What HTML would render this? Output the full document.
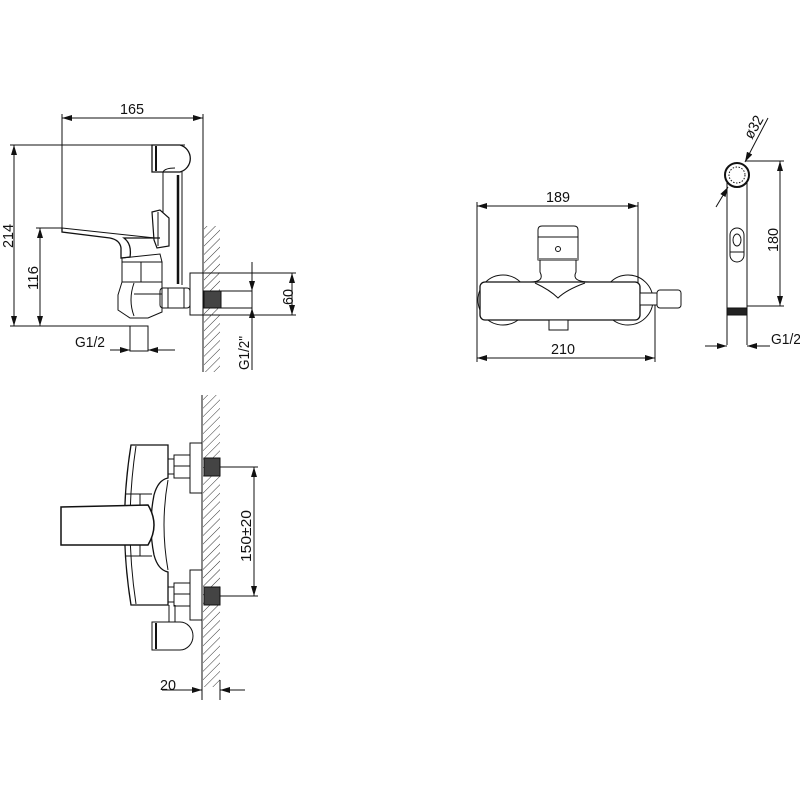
<!DOCTYPE html>
<html><head><meta charset="utf-8"><style>
html,body{margin:0;padding:0;background:#fff;}
svg{display:block}
text{font-family:"Liberation Sans",sans-serif;font-size:15px;fill:#111}
</style></head><body>
<svg width="800" height="800" viewBox="0 0 800 800" xmlns="http://www.w3.org/2000/svg">
<defs>
<pattern id="h" width="6" height="6" patternUnits="userSpaceOnUse" patternTransform="rotate(45)">
<line x1="0" y1="0" x2="0" y2="6" stroke="#333" stroke-width="1"/>
</pattern>
<marker id="a" markerWidth="10" markerHeight="6" refX="10" refY="3" orient="auto-start-reverse" markerUnits="userSpaceOnUse">
<path d="M0,0 L10,3 L0,6 Z" fill="#111"/>
</marker>
</defs>
<g stroke="#111" stroke-width="1" fill="none">

<rect x="204" y="226" width="16" height="146" fill="url(#h)" stroke="none"/>
<line x1="203" y1="114" x2="203" y2="372"/>
<line x1="62" y1="118" x2="203" y2="118" marker-start="url(#a)" marker-end="url(#a)"/>
<line x1="62" y1="114" x2="62" y2="228"/>
<line x1="10" y1="145" x2="185" y2="145"/>
<line x1="10" y1="326" x2="135" y2="326"/>
<line x1="14" y1="145" x2="14" y2="326" marker-start="url(#a)" marker-end="url(#a)"/>
<line x1="36" y1="228" x2="62" y2="228"/>
<line x1="40" y1="228" x2="40" y2="326" marker-start="url(#a)" marker-end="url(#a)"/>
<path d="M152,145 L180,145 A14,14 0 0 1 180,172 L152,172 Z" stroke-width="1.3"/>
<line x1="156" y1="146" x2="156" y2="171" stroke-width="2"/>
<path d="M163,172 Q165,168 175,168"/>
<line x1="163" y1="172" x2="163" y2="213"/>
<line x1="178" y1="175" x2="178" y2="284" stroke-width="2.5"/>
<line x1="182" y1="172" x2="182" y2="285"/>
<path d="M152,212 L160,210 L169,218 L169,246 L157,248 L154,240 Z" stroke-width="1.2"/>
<line x1="158" y1="212" x2="158" y2="246"/>
<path d="M62,228 L62,232 L110,238 Q120,240 121,248 L121,258 L130,257 Q132,244 124,238 L160,238" stroke-width="1.3"/>
<line x1="62" y1="228" x2="155" y2="238"/>
<path d="M122,258 L160,254 L162,262 L122,262 Z"/>
<path d="M122,262 L162,262 L162,282 L122,282 Z"/>
<line x1="141" y1="262" x2="141" y2="282"/>
<path d="M122,282 L118,295 L118,310 L130,318 L148,318 L162,312 L162,282"/>
<path d="M134,283 Q128,300 134,316"/>
<line x1="134" y1="294" x2="162" y2="294"/>
<rect x="160" y="288" width="30" height="20" rx="3"/>
<line x1="168" y1="288" x2="168" y2="308"/>
<line x1="184" y1="288" x2="184" y2="308"/>
<rect x="190" y="273" width="13" height="42" fill="#fff"/>
<rect x="204" y="291" width="17" height="17" fill="#444"/>
<line x1="221" y1="291" x2="252" y2="291"/>
<line x1="221" y1="308" x2="252" y2="308"/>
<rect x="130" y="326" width="18" height="25" fill="#fff"/>
<line x1="110" y1="350" x2="130" y2="350" marker-end="url(#a)"/>
<line x1="175" y1="350" x2="148" y2="350" marker-end="url(#a)"/>
<line x1="203" y1="273" x2="296" y2="273"/>
<line x1="203" y1="315" x2="296" y2="315"/>
<line x1="292" y1="273" x2="292" y2="315" marker-start="url(#a)" marker-end="url(#a)"/>
<line x1="252" y1="262" x2="252" y2="370"/>
<line x1="252" y1="278" x2="252" y2="291" marker-end="url(#a)"/>
<line x1="252" y1="322" x2="252" y2="308" marker-end="url(#a)"/>

<rect x="203" y="395" width="17" height="292" fill="url(#h)" stroke="none"/>
<line x1="202" y1="395" x2="202" y2="700"/>
<line x1="220" y1="680" x2="220" y2="700"/>
<rect x="190" y="443" width="12" height="50" fill="#fff"/>
<rect x="190" y="570" width="12" height="50" fill="#fff"/>
<rect x="204" y="458" width="16" height="18" fill="#444"/>
<rect x="204" y="587" width="16" height="18" fill="#444"/>
<rect x="174" y="455" width="16" height="23"/>
<line x1="174" y1="466" x2="190" y2="466"/>
<rect x="174" y="583" width="16" height="23"/>
<line x1="174" y1="594" x2="190" y2="594"/>
<line x1="168" y1="459" x2="174" y2="459"/><line x1="168" y1="474" x2="174" y2="474"/>
<line x1="168" y1="587" x2="174" y2="587"/><line x1="168" y1="602" x2="174" y2="602"/>
<path d="M131,445 L168,445 L168,478 Q158,480 154,495 Q148,525 154,555 Q158,570 168,572 L168,605 L131,605 Q118,525 131,445 Z" stroke-width="1.3"/>
<path d="M136,446 Q124,525 136,604"/>
<path d="M168,480 Q160,525 168,570"/>
<line x1="126" y1="494" x2="152" y2="494"/><line x1="126" y1="556" x2="152" y2="556"/>
<line x1="140" y1="494" x2="140" y2="506"/><line x1="140" y1="545" x2="140" y2="556"/>
<path d="M61,507 L148,505 Q160,525 148,545 L61,545 Z" fill="#fff" stroke-width="1.5"/>
<line x1="169" y1="605" x2="169" y2="622"/><line x1="175" y1="605" x2="175" y2="622"/>
<path d="M152,622 L180,622 A13,14 0 0 1 180,650 L152,650 Z" fill="#fff"/>
<line x1="156" y1="623" x2="156" y2="649" stroke-width="2"/>
<line x1="220" y1="467" x2="258" y2="467"/>
<line x1="220" y1="596" x2="258" y2="596"/>
<line x1="254" y1="467" x2="254" y2="596" marker-start="url(#a)" marker-end="url(#a)"/>
<line x1="162" y1="690" x2="202" y2="690" marker-end="url(#a)"/>
<line x1="245" y1="690" x2="220" y2="690" marker-end="url(#a)"/>

<line x1="477" y1="202" x2="477" y2="362"/>
<line x1="638" y1="202" x2="638" y2="290"/>
<line x1="655" y1="300" x2="655" y2="362"/>
<line x1="477" y1="206" x2="638" y2="206" marker-start="url(#a)" marker-end="url(#a)"/>
<line x1="477" y1="358" x2="655" y2="358" marker-start="url(#a)" marker-end="url(#a)"/>
<circle cx="503" cy="300" r="25"/>
<circle cx="628" cy="300" r="25"/>
<path d="M540,260 L540,272 Q545,282 530,282 M576,260 L576,272 Q571,282 590,282" fill="#fff"/>
<rect x="480" y="282" width="160" height="38" rx="5" fill="#fff" stroke-width="1.3"/>
<path d="M535,283 Q550,290 558,298 Q566,290 585,283"/>
<path d="M538,230 Q538,226 542,226 L574,226 Q578,226 578,230 L578,260 L538,260 Z" fill="#fff"/>
<line x1="538" y1="237" x2="578" y2="237"/>
<line x1="538" y1="259" x2="578" y2="259" stroke-width="2" stroke="#888"/>
<circle cx="558" cy="249" r="2.5"/>
<rect x="549" y="320" width="19" height="10" fill="#fff"/>
<rect x="640" y="293" width="17" height="12" fill="#fff"/>
<rect x="657" y="290" width="24" height="18" rx="3" fill="#fff"/>

<circle cx="737" cy="175" r="12" stroke-width="2"/>
<circle cx="737" cy="175" r="8" stroke-dasharray="1.5,1.5"/>
<line x1="727" y1="182" x2="727" y2="345"/>
<line x1="747" y1="182" x2="747" y2="345"/>
<rect x="730" y="228" width="14" height="34" rx="7"/>
<ellipse cx="737" cy="240" rx="4" ry="6"/>
<line x1="730" y1="252" x2="744" y2="252"/>
<rect x="727" y="308" width="20" height="7" fill="#222"/>
<line x1="745" y1="161" x2="784" y2="161"/>
<line x1="780" y1="161" x2="780" y2="306" marker-start="url(#a)" marker-end="url(#a)"/>
<line x1="747" y1="306" x2="784" y2="306"/>
<line x1="768" y1="118" x2="745" y2="162" marker-end="url(#a)"/>
<line x1="716" y1="207" x2="728" y2="187" marker-end="url(#a)"/>
<line x1="705" y1="346" x2="727" y2="346" marker-end="url(#a)"/>
<line x1="770" y1="346" x2="747" y2="346" marker-end="url(#a)"/>
</g>

<text x="120" y="114" textLength="24" lengthAdjust="spacingAndGlyphs">165</text>
<text transform="translate(13,248) rotate(-90)" textLength="24" lengthAdjust="spacingAndGlyphs">214</text>
<text transform="translate(38,290) rotate(-90)" textLength="24" lengthAdjust="spacingAndGlyphs">116</text>
<text x="75" y="347" textLength="30" lengthAdjust="spacingAndGlyphs">G1/2</text>
<text transform="translate(293,305) rotate(-90)" textLength="16" lengthAdjust="spacingAndGlyphs">60</text>
<text transform="translate(249,370) rotate(-90)" textLength="34" lengthAdjust="spacingAndGlyphs">G1/2"</text>
<text transform="translate(251,562) rotate(-90)" textLength="52" lengthAdjust="spacingAndGlyphs">150±20</text>
<text x="160" y="690" textLength="16" lengthAdjust="spacingAndGlyphs">20</text>
<text x="546" y="202" textLength="24" lengthAdjust="spacingAndGlyphs">189</text>
<text x="551" y="354" textLength="24" lengthAdjust="spacingAndGlyphs">210</text>
<text transform="translate(752,140) rotate(-60)" textLength="24" lengthAdjust="spacingAndGlyphs">ø32</text>
<text transform="translate(778,252) rotate(-90)" textLength="24" lengthAdjust="spacingAndGlyphs">180</text>
<text x="771" y="344" textLength="30" lengthAdjust="spacingAndGlyphs">G1/2</text>
</svg>
</body></html>
